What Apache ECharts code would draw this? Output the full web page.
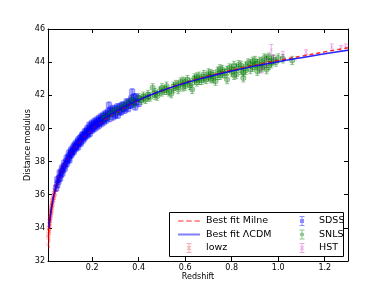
<!DOCTYPE html>
<html>
<head>
<meta charset="utf-8">
<script src="https://cdn.jsdelivr.net/npm/echarts@6/dist/echarts.min.js"></script>
<style>html,body{margin:0;padding:0;background:#fff;}#c{width:386px;height:290px;}</style>
</head>
<body>
<div id="c"></div>
<script>
// ---- data ----
const xTicks = [0.2, 0.4, 0.6, 0.8, 1.0, 1.2];

const lineZ   = [0.015,0.02,0.03,0.04,0.05,0.07,0.1,0.15,0.2,0.25,0.3,0.4,0.5,0.6,0.7,0.8,0.9,1.0,1.1,1.2,1.3];
const lcdmMu  = [34.0,34.72,35.62,36.25,36.76,37.52,38.35,39.3,40.0,40.55,41.0,41.72,42.28,42.74,43.12,43.46,43.76,44.03,44.27,44.5,44.72];
const milneMu = [34.0,34.72,35.61,36.24,36.74,37.49,38.31,39.26,39.96,40.5,40.96,41.7,42.28,42.76,43.16,43.52,43.82,44.1,44.36,44.62,44.87];

const lowzZ  = [0.008,0.009,0.010,0.010,0.011,0.012,0.012,0.013,0.014,0.015,0.015,0.016,0.017,0.018,0.019,0.020,0.021,0.022,0.023,0.024,0.025,0.026,0.027,0.028,0.030,0.031,0.033,0.035,0.036,0.038,0.040,0.042,0.045,0.048,0.050,0.053,0.056,0.060,0.064,0.068,0.072,0.076];
const lowzMu = [32.9,33.1,33.5,33.0,33.6,33.4,33.9,34.0,33.8,34.2,34.0,34.4,34.3,34.6,34.5,34.8,34.7,35.0,34.9,35.2,35.1,35.4,35.3,35.6,35.5,35.8,35.7,36.0,35.9,36.2,36.1,36.4,36.4,36.7,36.6,36.9,36.9,37.3,37.2,37.5,37.5,37.7];
const lowzErr = 0.18;

const sdssZ  = [0.045,0.05,0.055,0.06,0.065,0.07,0.075,0.08,0.085,0.09,0.095,0.10,0.10,0.105,0.11,0.11,0.115,0.12,0.12,0.125,0.13,0.13,0.135,0.14,0.14,0.145,0.15,0.15,0.155,0.16,0.16,0.165,0.17,0.17,0.175,0.18,0.18,0.185,0.19,0.19,0.195,0.20,0.20,0.205,0.21,0.21,0.215,0.22,0.22,0.225,0.23,0.23,0.235,0.24,0.24,0.245,0.25,0.25,0.255,0.26,0.26,0.265,0.27,0.272,0.275,0.28,0.285,0.29,0.295,0.30,0.305,0.31,0.315,0.32,0.325,0.33,0.335,0.34,0.345,0.35,0.355,0.36,0.365,0.37,0.372,0.375,0.38,0.385,0.39,0.395,0.40,
  0.05,0.058,0.062,0.068,0.072,0.078,0.082,0.088,0.092,0.098,0.102,0.108,0.112,0.118,0.122,0.128,0.132,0.138,0.142,0.148,0.152,0.158,0.162,0.168,0.172,0.178,0.182,0.188,0.192,0.198,0.202,0.208,0.212,0.218,0.222,0.228,0.232,0.238,0.242,0.248,0.252,0.258,0.262,0.268,0.278,0.288,0.298,0.308,0.318,0.328,0.338,0.348,0.358,0.368,0.378,0.388];
const sdssMu = [36.4,36.9,36.8,37.3,37.2,37.6,37.5,37.9,37.8,38.2,38.1,38.5,38.2,38.4,38.7,38.4,38.6,38.9,38.6,39.0,38.8,39.1,39.0,39.3,38.9,39.2,39.4,39.1,39.5,39.3,39.6,39.4,39.7,39.5,39.8,39.6,40.0,39.8,40.1,39.7,40.0,40.2,39.9,40.1,40.3,40.0,40.2,40.4,40.1,40.3,40.5,40.2,40.4,40.6,40.3,40.5,40.7,40.4,40.6,40.8,40.5,40.7,40.9,41.4,40.6,40.9,41.0,40.7,41.1,40.9,41.2,40.8,41.1,41.3,41.0,41.2,41.4,41.1,41.3,41.5,41.2,41.6,41.4,41.7,42.2,41.5,41.9,41.3,41.6,41.8,41.5,
  36.6,37.0,37.0,37.4,37.3,37.7,37.6,38.0,37.9,38.3,38.1,38.6,38.5,38.8,38.7,38.9,38.9,39.2,39.1,39.4,39.2,39.6,39.5,39.8,39.6,39.9,39.7,40.2,39.9,40.3,40.0,40.4,40.2,40.5,40.3,40.6,40.4,40.7,40.5,40.8,40.6,40.9,40.7,41.0,41.1,41.2,40.8,41.3,41.0,41.4,41.2,41.6,41.4,41.8,41.6,41.9];
const sdssErr = 0.2;

const snlsZ  = [0.25,0.27,0.29,0.31,0.33,0.35,0.37,0.38,0.40,0.41,0.42,0.43,0.44,0.45,0.46,0.47,0.48,0.49,0.50,0.51,0.52,0.53,0.54,0.55,0.56,0.57,0.58,0.59,0.60,0.61,0.62,0.63,0.64,0.65,0.66,0.67,0.68,0.69,0.70,0.71,0.72,0.73,0.74,0.75,0.76,0.77,0.78,0.79,0.80,0.81,0.82,0.83,0.84,0.85,0.86,0.87,0.88,0.89,0.90,0.91,0.92,0.93,0.94,0.95,0.96,0.97,0.98,1.00,1.02,1.06,
  0.42,0.44,0.47,0.50,0.52,0.55,0.57,0.60,0.62,0.64,0.66,0.68,0.70,0.72,0.74,0.76,0.78,0.80,0.81,0.82,0.84,0.85,0.86,0.88,0.89,0.90,0.91,0.92,0.93,0.94,0.95,0.96,0.97,0.99,0.75,0.71,0.65,0.59];
const snlsMu = [40.65,40.8,41.0,41.1,41.3,41.45,41.7,41.5,41.85,41.7,41.95,41.75,42.05,41.9,42.45,42.15,41.95,42.25,42.45,42.3,42.55,42.2,42.1,42.55,42.65,42.35,42.8,42.85,42.55,42.95,42.75,42.35,43.05,42.8,43.15,42.9,43.25,42.95,43.35,43.0,43.25,42.85,43.45,43.2,43.55,43.3,42.95,43.65,43.4,43.8,43.25,43.85,43.5,43.05,43.75,43.95,43.55,44.05,43.8,43.45,44.05,43.7,44.25,43.55,44.3,43.9,44.15,44.25,44.2,44.1,
  41.8,41.9,42.0,42.2,42.3,42.4,42.6,42.8,42.6,42.9,42.9,43.0,43.1,43.0,43.2,43.3,43.5,43.6,43.2,43.6,43.8,43.4,43.5,43.9,43.7,44.1,43.9,43.6,44.0,43.8,44.2,43.8,44.1,44.0,43.6,43.3,43.1,42.5];
const snlsErr = 0.25;

const hstZ   = [0.93,0.95,0.97,0.98,1.02,1.12,1.23,1.27,1.29];
const hstMu  = [43.6,43.95,44.75,44.2,44.45,44.6,44.9,44.85,44.9];
const hstErr = [0.25,0.25,0.32,0.25,0.2,0.15,0.2,0.15,0.2];

// ---- build ----
function pairs(xs, ys) { return xs.map((x, i) => [x, ys[i]]); }
function errTriples(xs, ys, e) { return xs.map((x, i) => [x, ys[i], Array.isArray(e) ? e[i] : e]); }

function errRender(color) {
  return function (params, api) {
    const x = api.value(0), y = api.value(1), e = api.value(2);
    const p1 = api.coord([x, y - e]), p2 = api.coord([x, y + e]);
    const c = 2;
    const st = { stroke: color, lineWidth: 1 };
    return { type: 'group', children: [
      { type: 'line', shape: { x1: p1[0], y1: p1[1], x2: p2[0], y2: p2[1] }, style: st },
      { type: 'line', shape: { x1: p1[0] - c, y1: p1[1], x2: p1[0] + c, y2: p1[1] }, style: st },
      { type: 'line', shape: { x1: p2[0] - c, y1: p2[1], x2: p2[0] + c, y2: p2[1] }, style: st }
    ]};
  };
}

const FONT = 'DejaVu Sans';
const xSym = 'path://M0,1L1,0L5,4L9,0L10,1L6,5L10,9L9,10L5,6L1,10L0,9L4,5Z';
// legend icons, all drawn in a 22x10 box (corner specks fix the bounding box)
const box = 'M0,0h0.01v0.01h-0.01zM21.99,9.99h0.01v0.01h-0.01z';
const bar = 'M10.5,0h1v10h-1zM8.5,0h5v0.9h-5zM8.5,9.1h5v0.9h-5z';
const icoSolid = 'path://' + box + 'M0,4.1h22v1.8h-22z';
const icoDash = 'path://' + box + 'M0,4.2h5.5v1.6h-5.5zM8.2,4.2h5.5v1.6h-5.5zM16.4,4.2h5.5v1.6h-5.5z';
const icoSq = 'path://' + box + bar + 'M9,3h4v4h-4z';
const icoCirc = 'path://' + box + bar + 'M11,2.9L12.6,3.6L13.2,5L12.6,6.4L11,7.1L9.4,6.4L8.8,5L9.4,3.6Z';
const icoX = 'path://' + box + bar + 'M8.8,3.4L9.4,2.8L11,4.4L12.6,2.8L13.2,3.4L11.6,5L13.2,6.6L12.6,7.2L11,5.6L9.4,7.2L8.8,6.6L10.4,5Z';

const cLowz = 'rgba(255,0,0,0.38)';
const cSdss = 'rgba(0,0,255,0.4)';
const cSnls = 'rgba(0,120,0,0.42)';
const cHst  = 'rgba(191,0,191,0.3)';

const axisCommon = {
  min: 0.01, max: 1.3, type: 'value',
  axisLine: { show: true, onZero: false, lineStyle: { color: '#000', width: 1 } },
  splitLine: { show: false }
};

function legendItem(name, icon, color) {
  return { name: name, icon: icon, itemStyle: { color: color, borderWidth: 0, borderColor: 'transparent', opacity: 1 } };
}

const option = {
  animation: false,
  backgroundColor: '#fff',
  grid: { left: 48, right: 38, top: 29, bottom: 29, containLabel: false },
  xAxis: [
    Object.assign({}, axisCommon, {
      position: 'bottom',
      name: 'Redshift', nameLocation: 'middle', nameGap: 12, nameMoveOverlap: false,
      nameTextStyle: { fontFamily: FONT, fontSize: 8, color: '#000' },
      axisTick: { show: true, inside: true, length: 4, lineStyle: { color: '#000' }, customValues: xTicks },
      axisLabel: { show: true, fontFamily: FONT, fontSize: 8, color: '#000', margin: 3, customValues: xTicks,
        formatter: v => v.toFixed(1) }
    }),
    Object.assign({}, axisCommon, {
      position: 'top',
      axisTick: { show: true, inside: true, length: 4, lineStyle: { color: '#000' }, customValues: xTicks },
      axisLabel: { show: false }
    })
  ],
  yAxis: [
    {
      type: 'value', min: 32, max: 46, interval: 2, position: 'left',
      name: 'Distance modulus', nameLocation: 'middle', nameGap: 16, nameRotate: 90, nameMoveOverlap: false,
      nameTextStyle: { fontFamily: FONT, fontSize: 8, color: '#000' },
      axisLine: { show: true, onZero: false, lineStyle: { color: '#000', width: 1 } },
      axisTick: { show: true, inside: true, length: 4, lineStyle: { color: '#000' } },
      axisLabel: { fontFamily: FONT, fontSize: 8, color: '#000', margin: 3 },
      splitLine: { show: false }
    },
    {
      type: 'value', min: 32, max: 46, interval: 2, position: 'right',
      axisLine: { show: true, onZero: false, lineStyle: { color: '#000', width: 1 } },
      axisTick: { show: true, inside: true, length: 4, lineStyle: { color: '#000' } },
      axisLabel: { show: false },
      splitLine: { show: false }
    }
  ],
  legend: [
    {
      left: 173, top: 211, orient: 'vertical', itemWidth: 22, itemHeight: 10, itemGap: 3.5,
      textStyle: { fontFamily: FONT, fontSize: 9.5, color: '#000', padding: [0, 0, 0, 1] },
      data: [
        legendItem('Best fit Milne', icoDash, 'rgba(255,0,0,0.55)'),
        legendItem('Best fit ΛCDM', icoSolid, 'rgba(0,0,255,0.5)'),
        legendItem('lowz', icoX, 'rgba(255,0,0,0.35)')
      ],
      z: 10
    },
    {
      left: 286, top: 211, orient: 'vertical', itemWidth: 22, itemHeight: 10, itemGap: 3.5,
      textStyle: { fontFamily: FONT, fontSize: 9.5, color: '#000', padding: [0, 0, 0, 1] },
      data: [
        legendItem('SDSS', icoSq, 'rgba(0,0,255,0.45)'),
        legendItem('SNLS', icoCirc, 'rgba(0,128,0,0.45)'),
        legendItem('HST', icoX, 'rgba(191,0,191,0.35)')
      ],
      z: 10
    }
  ],
  graphic: [
    { type: 'rect', left: 169, top: 212, shape: { width: 174, height: 44 }, z: 5,
      style: { fill: '#fff', stroke: '#000', lineWidth: 1 } }
  ],
  series: [
    { type: 'custom', name: 'lowzErr', renderItem: errRender(cLowz), data: errTriples(lowzZ, lowzMu, lowzErr), clip: true, z: 2 },
    { type: 'scatter', name: 'lowz', data: pairs(lowzZ, lowzMu), symbol: xSym, symbolSize: 4.5, itemStyle: { color: cLowz }, z: 2 },
    { type: 'custom', name: 'sdssErr', renderItem: errRender(cSdss), data: errTriples(sdssZ, sdssMu, sdssErr), clip: true, z: 3 },
    { type: 'scatter', name: 'SDSS', data: pairs(sdssZ, sdssMu), symbol: 'rect', symbolSize: 5.5,
      itemStyle: { color: cSdss, borderColor: cSdss, borderWidth: 0.8 }, z: 3 },
    { type: 'custom', name: 'snlsErr', renderItem: errRender(cSnls), data: errTriples(snlsZ, snlsMu, snlsErr), clip: true, z: 4 },
    { type: 'scatter', name: 'SNLS', data: pairs(snlsZ, snlsMu), symbol: 'circle', symbolSize: 5.5,
      itemStyle: { color: cSnls, borderColor: cSnls, borderWidth: 0.8 }, z: 4 },
    { type: 'custom', name: 'hstErr', renderItem: errRender(cHst), data: errTriples(hstZ, hstMu, hstErr), clip: true, z: 5 },
    { type: 'scatter', name: 'HST', data: pairs(hstZ, hstMu), symbol: xSym, symbolSize: 4, itemStyle: { color: cHst }, z: 5 },
    { type: 'line', name: 'Best fit Milne', data: pairs(lineZ, milneMu), symbol: 'none', smooth: true,
      lineStyle: { color: '#ff0000', width: 1.5, type: [4, 3], opacity: 0.85 }, itemStyle: { color: '#ff0000' }, z: 6 },
    { type: 'line', name: 'Best fit ΛCDM', data: pairs(lineZ, lcdmMu), symbol: 'none', smooth: true,
      lineStyle: { color: '#0000ff', width: 1.5, opacity: 0.85 }, itemStyle: { color: '#0000ff' }, z: 7 }
  ]
};

const chart = echarts.init(document.getElementById('c'), null, { renderer: 'canvas' });
chart.setOption(option);
</script>
</body>
</html>
